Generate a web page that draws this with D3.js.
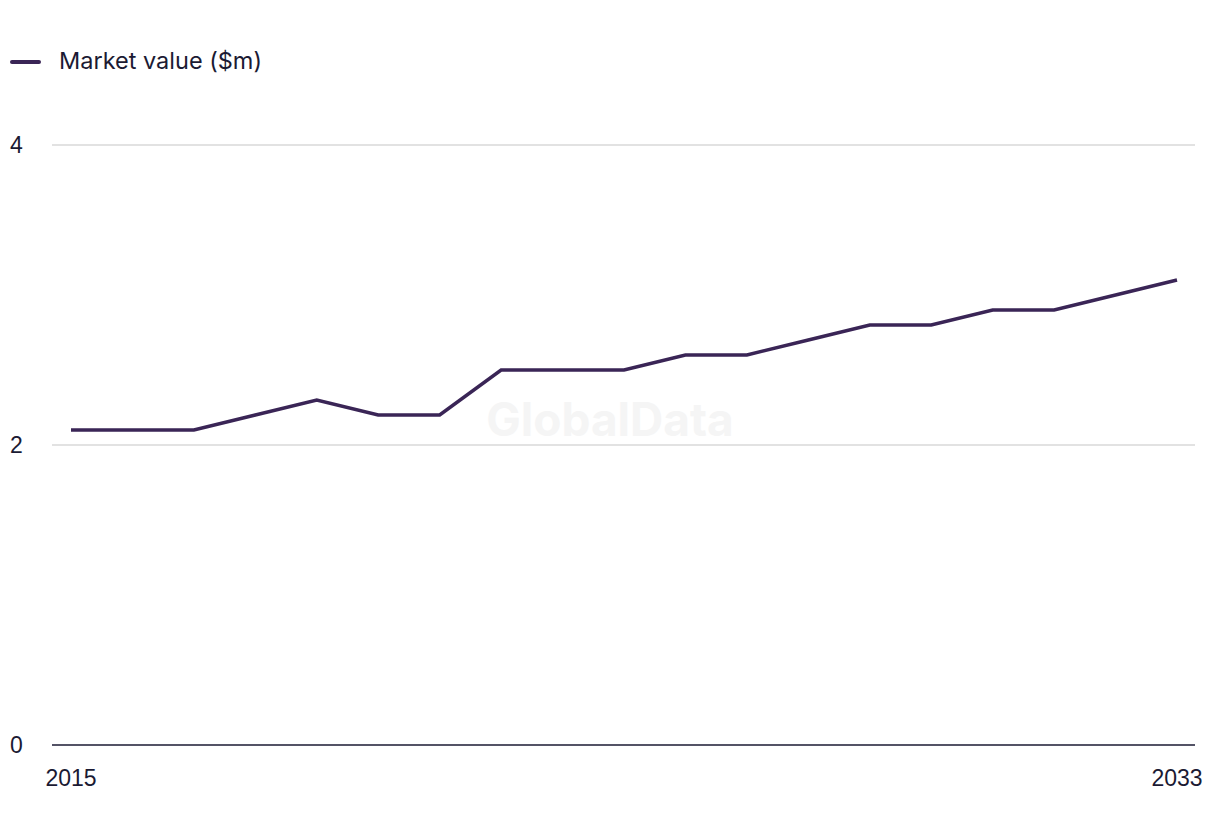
<!DOCTYPE html>
<html>
<head>
<meta charset="utf-8">
<script src="https://cdn.jsdelivr.net/npm/d3@7"></script>
<style>
  html, body { margin: 0; padding: 0; background: #ffffff; }
  svg { display: block; }
  text { font-family: "Liberation Sans", Arial, sans-serif; }
  text.inter { font-family: "Inter", sans-serif; }
</style>
</head>
<body>
<svg id="chart" width="1220" height="836"></svg>
<script>
const years = [2015, 2016, 2017, 2018, 2019, 2020, 2021, 2022, 2023, 2024, 2025, 2026, 2027, 2028, 2029, 2030, 2031, 2032, 2033];
const marketValue = [2.1, 2.1, 2.1, 2.2, 2.3, 2.2, 2.2, 2.5, 2.5, 2.5, 2.6, 2.6, 2.7, 2.8, 2.8, 2.9, 2.9, 3.0, 3.1];
const yTicks = [0, 2, 4];
const xTickLabels = [2015, 2033];
const seriesName = "Market value ($m)";

const svg = d3.select("#chart");
const plotLeft = 52, plotRight = 1195;

const x = d3.scaleLinear().domain([2015, 2033]).range([71, 1177]);
const y = d3.scaleLinear().domain([0, 4]).range([745, 145]);

// watermark
svg.append("text")
  .attr("class", "inter")
  .attr("x", 610).attr("y", 436)
  .attr("text-anchor", "middle")
  .attr("font-size", 46).attr("font-weight", 700)
  .attr("fill", "#f5f5f5")
  .text("GlobalData");

// gridlines
svg.append("g").selectAll("line")
  .data(yTicks.filter(d => d !== 0))
  .join("line")
  .attr("x1", plotLeft).attr("x2", plotRight)
  .attr("y1", d => y(d)).attr("y2", d => y(d))
  .attr("stroke", "#d9d9d9").attr("stroke-width", 1.5);

// baseline
svg.append("line")
  .attr("x1", plotLeft).attr("x2", plotRight)
  .attr("y1", y(0)).attr("y2", y(0))
  .attr("stroke", "#1b1a33").attr("stroke-width", 1.5);

// y labels
svg.append("g").selectAll("text")
  .data(yTicks)
  .join("text")
  .attr("x", 10).attr("y", d => y(d) + 8)
  .attr("font-size", 23).attr("fill", "#1b1a33")
  .text(d => d);

// x labels
svg.append("g").selectAll("text")
  .data(xTickLabels)
  .join("text")
  .attr("x", d => x(d)).attr("y", 786)
  .attr("text-anchor", "middle")
  .attr("font-size", 23).attr("fill", "#1b1a33")
  .text(d => d);

// line
const line = d3.line().x((d, i) => x(years[i])).y(d => y(d));
svg.append("path")
  .datum(marketValue)
  .attr("d", line)
  .attr("fill", "none")
  .attr("stroke", "#3a2556")
  .attr("stroke-width", 3.5)
  .attr("stroke-linejoin", "miter");

// legend
svg.append("line")
  .attr("x1", 12).attr("x2", 39).attr("y1", 62).attr("y2", 62)
  .attr("stroke", "#3a2556").attr("stroke-width", 4).attr("stroke-linecap", "round");
svg.append("text")
  .attr("class", "inter")
  .attr("x", 59).attr("y", 69)
  .attr("font-size", 23.5).attr("fill", "#1b1a33")
  .text(seriesName);
</script>
</body>
</html>
